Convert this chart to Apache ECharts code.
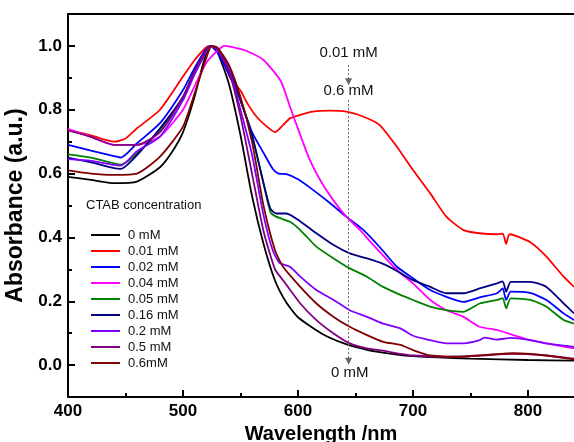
<!DOCTYPE html>
<html><head><meta charset="utf-8">
<script src="https://cdn.jsdelivr.net/npm/echarts@6/dist/echarts.min.js"></script>
<style>html,body{margin:0;padding:0;background:#fff}#c{width:574px;height:442px}</style>
</head><body><div id="c"></div>
<script>
// ---- data: [wavelength (nm), absorbance (a.u.)] ----
const names = ['0 mM','0.01 mM','0.02 mM','0.04 mM','0.05 mM','0.16 mM','0.2 mM','0.5 mM','0.6mM'];
const colors = ['#000000','#ff0000','#0000ff','#ff00ff','#008000','#000080','#8000ff','#800080','#800000'];

const s0 = [[400,0.59],[420,0.58],[440,0.57],[460,0.575],[480,0.62],[490,0.665],[500,0.73],[510,0.84],[518,0.95],[524,1.0],[530,0.98],[540,0.88],[550,0.72],[560,0.53],[570,0.38],[580,0.265],[590,0.195],[600,0.15],[620,0.10],[640,0.068],[660,0.048],[680,0.036],[700,0.028],[750,0.02],[800,0.016],[840,0.014]];
const s001 = [[400,0.737],[420,0.72],[440,0.70],[450,0.71],[460,0.742],[480,0.80],[500,0.904],[510,0.955],[520,0.995],[524,1.0],[530,0.98],[535,0.955],[541,0.90],[550,0.86],[556,0.82],[564,0.778],[573,0.747],[580,0.73],[587,0.752],[593,0.773],[602,0.784],[613,0.794],[628,0.797],[642,0.794],[657,0.778],[671,0.752],[686,0.684],[700,0.611],[715,0.538],[729,0.465],[744,0.423],[758,0.413],[773,0.41],[778,0.412],[781,0.38],[784,0.41],[802,0.385],[816,0.34],[831,0.277],[840,0.245]];
const s002 = [[400,0.69],[420,0.672],[440,0.655],[446,0.65],[460,0.695],[480,0.758],[500,0.862],[510,0.93],[520,0.99],[524,1.0],[530,0.98],[540,0.91],[550,0.83],[560,0.73],[570,0.665],[578,0.615],[583,0.60],[590,0.598],[600,0.582],[613,0.549],[628,0.507],[642,0.465],[657,0.423],[671,0.37],[686,0.308],[700,0.272],[715,0.235],[729,0.214],[744,0.198],[758,0.212],[773,0.225],[778,0.24],[781,0.204],[785,0.23],[802,0.226],[816,0.204],[831,0.162],[840,0.141]];
const s004 = [[400,0.74],[420,0.715],[440,0.69],[460,0.69],[480,0.716],[500,0.80],[510,0.873],[520,0.946],[530,0.985],[536,1.0],[545,0.995],[555,0.985],[570,0.956],[585,0.89],[593,0.81],[600,0.74],[610,0.645],[620,0.575],[630,0.52],[642,0.465],[654,0.423],[662,0.39],[671,0.355],[686,0.298],[700,0.256],[715,0.204],[729,0.172],[744,0.151],[758,0.12],[773,0.11],[787,0.094],[802,0.078],[816,0.068],[840,0.052]];
const s005 = [[400,0.66],[420,0.65],[440,0.632],[446,0.628],[460,0.663],[480,0.737],[500,0.84],[510,0.92],[520,0.985],[524,1.0],[530,0.99],[540,0.93],[550,0.83],[560,0.72],[570,0.57],[576,0.48],[581,0.465],[593,0.449],[602,0.423],[616,0.371],[631,0.334],[645,0.303],[660,0.277],[674,0.245],[689,0.22],[700,0.204],[715,0.183],[729,0.172],[744,0.167],[758,0.193],[773,0.204],[778,0.21],[781,0.178],[785,0.209],[802,0.204],[816,0.183],[831,0.141],[840,0.13]];
const s016 = [[400,0.65],[420,0.635],[440,0.617],[446,0.615],[460,0.658],[480,0.742],[500,0.84],[510,0.92],[520,0.985],[524,1.0],[530,0.99],[540,0.93],[550,0.83],[560,0.72],[570,0.57],[576,0.49],[581,0.475],[590,0.475],[602,0.45],[616,0.413],[631,0.376],[645,0.35],[660,0.334],[674,0.317],[686,0.295],[700,0.266],[715,0.245],[729,0.225],[744,0.225],[758,0.24],[773,0.256],[778,0.262],[781,0.23],[785,0.261],[802,0.261],[816,0.245],[831,0.193],[840,0.162]];
const s02 = [[400,0.645],[420,0.64],[440,0.627],[446,0.625],[460,0.67],[480,0.716],[500,0.83],[510,0.91],[520,0.98],[524,1.0],[530,0.99],[540,0.93],[550,0.80],[560,0.66],[570,0.47],[578,0.36],[584,0.32],[593,0.308],[602,0.277],[616,0.235],[631,0.204],[645,0.172],[660,0.151],[674,0.13],[689,0.115],[700,0.092],[715,0.078],[729,0.068],[744,0.068],[758,0.078],[762,0.086],[773,0.08],[785,0.085],[802,0.078],[816,0.068],[840,0.057]];
const s05 = [[400,0.735],[420,0.715],[440,0.69],[460,0.69],[480,0.73],[500,0.84],[510,0.92],[520,0.985],[524,1.0],[530,0.99],[540,0.92],[550,0.78],[560,0.60],[570,0.42],[580,0.30],[587,0.266],[602,0.193],[616,0.141],[631,0.099],[645,0.068],[660,0.052],[674,0.045],[689,0.035],[700,0.03],[729,0.026],[758,0.03],[787,0.035],[802,0.034],[816,0.03],[840,0.02]];
const s06 = [[400,0.61],[420,0.60],[440,0.596],[460,0.60],[480,0.653],[500,0.747],[510,0.85],[520,0.96],[525,1.0],[530,0.995],[540,0.94],[550,0.84],[560,0.70],[570,0.50],[580,0.36],[587,0.308],[602,0.245],[616,0.193],[631,0.151],[645,0.12],[660,0.094],[674,0.073],[689,0.063],[700,0.047],[715,0.03],[744,0.026],[758,0.03],[787,0.037],[802,0.035],[816,0.03],[840,0.018]];
const allSeries = [s0,s001,s002,s004,s005,s016,s02,s05,s06];

const xTicks = [400,500,600,700,800];
const xMinor = [450,550,650,750];
const yTicks = [0.0,0.2,0.4,0.6,0.8,1.0];
const yMinor = [0.1,0.3,0.5,0.7,0.9];
const markWl = 644;
const annot = [{t:'0.01 mM',x:644,y:0.978},{t:'0.6 mM',x:644,y:0.859},{t:'0 mM',x:645,y:-0.025}];

const FONT = 'Liberation Sans';
const chart = echarts.init(document.getElementById('c'));
const series = allSeries.map((d,i)=>({
  name:names[i], type:'line', data:d, showSymbol:false, smooth:0.2,
  lineStyle:{width:1.8,color:colors[i]}, itemStyle:{color:colors[i]}, z:3
}));
series.push({
  name:'annot', type:'line', data:[], silent:true,
  markLine:{silent:true, symbol:['none','triangle'], symbolSize:7, label:{show:false},
    lineStyle:{type:[2,2], color:'#666', width:1},
    data:[[{coord:[markWl,0.94]},{coord:[markWl,0.888]}],[{coord:[markWl,0.83]},{coord:[markWl,0.012]}]]},
  markPoint:{silent:true, symbol:'circle', symbolSize:1, itemStyle:{color:'transparent'},
    label:{show:true, position:'inside', color:'#111', fontFamily:FONT, fontSize:15},
    data:annot.map(a=>({coord:[a.x,a.y], label:{formatter:a.t}}))}
});
const axisLbl = {color:'#000', fontFamily:FONT, fontWeight:'bold', fontSize:17};
chart.setOption({
  animation:false,
  grid:{left:68, right:0, top:14, bottom:45, containLabel:false, outerBoundsMode:'none'},
  legend:{data:names, orient:'vertical', left:86, top:222, icon:'rect', itemWidth:29, itemHeight:2, itemGap:0,
    textStyle:{fontFamily:FONT, fontSize:13, color:'#111', lineHeight:16, padding:[0,0,0,3]}},
  graphic:[{type:'text', left:86, top:199, style:{text:'CTAB concentration', font:'13px "Liberation Sans"', fill:'#111'}}],
  xAxis:[
    {type:'value', min:400, max:840, position:'bottom',
     axisLine:{onZero:false, lineStyle:{color:'#000',width:2}},
     axisTick:{inside:true, length:7, lineStyle:{width:2,color:'#000'}, customValues:xTicks},
     axisLabel:Object.assign({margin:6, customValues:xTicks}, axisLbl), splitLine:{show:false},
     name:'Wavelength /nm', nameLocation:'middle', nameGap:25,
     nameTextStyle:{fontFamily:FONT, fontWeight:'bold', fontSize:20, color:'#000'}},
    {type:'value', min:400, max:840, position:'top',
     axisLine:{show:true, onZero:false, lineStyle:{color:'#000',width:2}}, axisTick:{show:false}, axisLabel:{show:false}, splitLine:{show:false}},
    {type:'value', min:400, max:840, position:'bottom',
     axisLine:{show:false, onZero:false}, axisTick:{inside:true, length:4, lineStyle:{width:2,color:'#000'}, customValues:xMinor},
     axisLabel:{show:false}, splitLine:{show:false}}
  ],
  yAxis:[
    {type:'value', min:-0.1, max:1.1, position:'left',
     axisLine:{show:true, onZero:false, lineStyle:{color:'#000',width:2}},
     axisTick:{show:true, inside:true, length:7, lineStyle:{width:2,color:'#000'}, customValues:yTicks},
     axisLabel:Object.assign({margin:6, customValues:yTicks, formatter:v=>v.toFixed(1)}, axisLbl), splitLine:{show:false},
     name:'Absorbance (a.u.)', nameLocation:'middle', nameGap:35,
     nameTextStyle:{fontFamily:FONT, fontWeight:'bold', fontSize:23, color:'#000'}},
    {type:'value', min:-0.1, max:1.1, position:'left',
     axisLine:{show:false, onZero:false}, axisTick:{show:true, inside:true, length:4, lineStyle:{width:2,color:'#000'}, customValues:yMinor},
     axisLabel:{show:false}, splitLine:{show:false}}
  ],
  series:series
});
</script></body></html>
